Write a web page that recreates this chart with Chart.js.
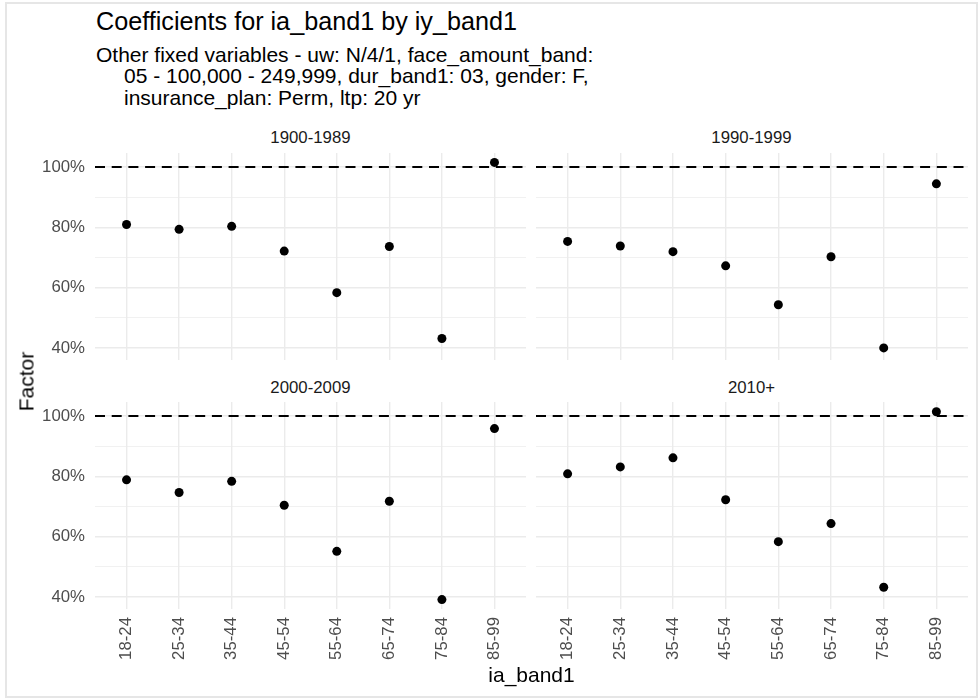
<!DOCTYPE html>
<html>
<head>
<meta charset="utf-8">
<script src="https://cdn.jsdelivr.net/npm/chart.js@4"></script>
<style>
  body { margin: 0; background: #fff; font-family: "Liberation Sans", Arial, sans-serif; }
  #page { position: relative; width: 979px; height: 698px; overflow: hidden; background: #fff; }
  .frame { position: absolute; left: 5px; top: 2px; width: 973px; height: 696px; box-sizing: border-box; border: 2px solid #e6e6e6; }
  .txt { position: absolute; white-space: pre; color: #000; }
  .strip { position: absolute; width: 300px; text-align: center; font-size: 16.8px; line-height: 16.8px; color: #1a1a1a; }
  canvas { position: absolute; }
</style>
</head>
<body>
<div id="page">
  <div class="frame"></div>

  <div class="txt" style="left:96px; top:9px; font-size:25.2px; line-height:25px;">Coefficients for ia_band1 by iy_band1</div>
  <div class="txt" style="left:96px; top:43.5px; font-size:21px; line-height:21.7px;">Other fixed variables - uw: N/4/1, face_amount_band:</div>
  <div class="txt" style="left:124px; top:65.2px; font-size:21px; line-height:21.7px;">05 - 100,000 - 249,999, dur_band1: 03, gender: F,</div>
  <div class="txt" style="left:124px; top:86.9px; font-size:21px; line-height:21.7px;">insurance_plan: Perm, ltp: 20 yr</div>

  <div class="strip" id="s0" style="left:160.5px; top:130px;"></div>
  <div class="strip" id="s1" style="left:601.5px; top:130px;"></div>
  <div class="strip" id="s2" style="left:160.5px; top:379.5px;"></div>
  <div class="strip" id="s3" style="left:601.5px; top:379.5px;"></div>

  <canvas id="p0" width="526" height="207" style="left:0px; top:153px;"></canvas>
  <canvas id="p1" width="432" height="207" style="left:536px; top:153px;"></canvas>
  <canvas id="p2" width="526" height="277" style="left:0px; top:402px;"></canvas>
  <canvas id="p3" width="432" height="277" style="left:536px; top:402px;"></canvas>

  <div class="txt" style="left:-74px; top:371px; width:200px; text-align:center; font-size:21px; line-height:21px; transform:rotate(-90deg);">Factor</div>
  <div class="txt" style="left:431.5px; top:664px; width:200px; text-align:center; font-size:21px; line-height:21px;">ia_band1</div>
</div>

<script>
// ia_band1 categories (x axis)
const categories = ['18-24', '25-34', '35-44', '45-54', '55-64', '65-74', '75-84', '85-99'];

// facets (iy_band1)
const panelNames = ['1900-1989', '1990-1999', '2000-2009', '2010+'];

// factor values in %, one array per facet
const factor1900 = [80.9, 79.3, 80.3, 72.1, 58.3, 73.6, 43.1, 101.5];
const factor1990 = [75.3, 73.8, 71.9, 67.2, 54.3, 70.2, 40.0, 94.4];
const factor2000 = [78.8, 74.6, 78.3, 70.4, 55.1, 71.7, 39.1, 95.8];
const factor2010 = [80.8, 83.1, 86.1, 72.2, 58.3, 64.3, 43.2, 101.4];

// y ticks
const yMajor = [40, 60, 80, 100];
const yMinor = [50, 70, 90];
const refValue = 100;

const family = '"Liberation Sans", Arial, sans-serif';
Chart.defaults.font.family = family;

// shared y range, 5% expansion like ggplot
const allVals = factor1900.concat(factor1990, factor2000, factor2010);
const lo = Math.min(...allVals);
const hi = Math.max(...allVals);
const yMin = lo - (hi - lo) * 0.05;
const yMax = hi + (hi - lo) * 0.05;

// dashed reference line at 100%
const refLine = {
    id: 'refLine',
    beforeDatasetsDraw(chart) {
        const { ctx, chartArea, scales } = chart;
        const y = scales.y.getPixelForValue(refValue);
        ctx.save();
        ctx.strokeStyle = '#000';
        ctx.lineWidth = 2;
        ctx.setLineDash([10, 6.7]);
        ctx.beginPath();
        ctx.moveTo(chartArea.left, y);
        ctx.lineTo(chartArea.right, y);
        ctx.stroke();
        ctx.restore();
    }
};

function makePanel(id, values, showY, showX) {
    new Chart(document.getElementById(id), {
        type: 'scatter',
        data: {
            datasets: [{
                data: values.map((v, i) => ({ x: i, y: v })),
                backgroundColor: '#000',
                borderWidth: 0,
                pointRadius: 4.5
            }]
        },
        options: {
            responsive: false,
            animation: false,
            events: [],
            layout: { padding: 0, autoPadding: false },
            plugins: { legend: { display: false }, tooltip: { enabled: false } },
            scales: {
                x: {
                    type: 'linear',
                    min: -0.6,
                    max: categories.length - 1 + 0.6,
                    afterBuildTicks: s => { s.ticks = categories.map((c, i) => ({ value: i })); },
                    afterFit: s => {
                        s.height = showX ? 70 : 0;
                        s.paddingLeft = 0;
                        s.paddingRight = 0;
                    },
                    border: { display: false },
                    grid: { color: '#ebebeb', lineWidth: 1.4, drawTicks: false },
                    ticks: {
                        display: showX,
                        autoSkip: false,
                        minRotation: 90,
                        maxRotation: 90,
                        padding: 8,
                        color: '#4d4d4d',
                        font: { size: 16.8 },
                        callback: v => categories[v]
                    }
                },
                y: {
                    min: yMin,
                    max: yMax,
                    afterBuildTicks: s => { s.ticks = yMajor.concat(yMinor).sort((a, b) => a - b).map(v => ({ value: v })); },
                    afterFit: s => {
                        s.width = showY ? 95 : 0;
                        s.paddingTop = 0;
                        s.paddingBottom = 0;
                    },
                    border: { display: false },
                    grid: {
                        color: '#ebebeb',
                        lineWidth: c => yMajor.includes(c.tick.value) ? 1.4 : 0.7,
                        drawTicks: false
                    },
                    ticks: {
                        display: showY,
                        padding: 10,
                        color: '#4d4d4d',
                        font: { size: 16.8 },
                        callback: v => yMajor.includes(v) ? v + '%' : ''
                    }
                }
            }
        },
        plugins: [refLine]
    });
}

panelNames.forEach((n, i) => { document.getElementById('s' + i).textContent = n; });

makePanel('p0', factor1900, true, false);
makePanel('p1', factor1990, false, false);
makePanel('p2', factor2000, true, true);
makePanel('p3', factor2010, false, true);
</script>
</body>
</html>
